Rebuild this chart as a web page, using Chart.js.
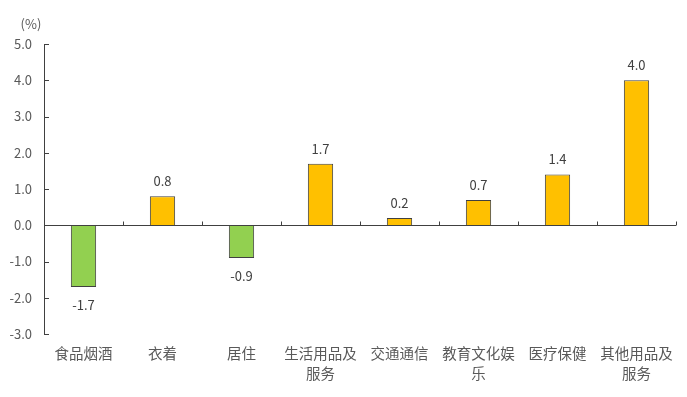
<!DOCTYPE html>
<html><head><meta charset="utf-8">
<script src="https://cdn.jsdelivr.net/npm/chart.js@4"></script>
<style>html,body{margin:0;padding:0;background:#fff}#w{width:687px;height:397px;position:relative}</style>
</head><body><div id="w"><canvas id="c"></canvas></div>
<script>
const categories = [["食品烟酒"],["衣着"],["居住"],["生活用品及","服务"],["交通通信"],["教育文化娱","乐"],["医疗保健"],["其他用品及","服务"]];
const values = [-1.7, 0.8, -0.9, 1.7, 0.2, 0.7, 1.4, 4.0];
const yTickMin = -3, yTickMax = 5, yTickStep = 1;
const unitLabel = "(%)";

const FONT = "'Noto Sans CJK SC', 'Noto Sans', sans-serif";
const TXT = '#595959', AX = '#404040';

const deco = {
  id: 'deco',
  afterDatasetsDraw(chart) {
    const {ctx, chartArea: a, scales: {x, y}} = chart;
    ctx.save();
    ctx.strokeStyle = AX; ctx.lineWidth = 1;
    const y0 = Math.round(y.getPixelForValue(0)) + 0.5;
    ctx.beginPath(); ctx.moveTo(a.left, y0); ctx.lineTo(a.right, y0); ctx.stroke();
    const n = categories.length;
    const step = x.getPixelForValue(1) - x.getPixelForValue(0);
    for (let i = 1; i <= n; i++) {
      const px = Math.round(i < n ? x.getPixelForValue(i) - step / 2 : a.right) + 0.5;
      ctx.beginPath(); ctx.moveTo(px, y0); ctx.lineTo(px, y0 - 4); ctx.stroke();
    }
    for (let v = yTickMin; v <= yTickMax; v += yTickStep) {
      const py = Math.round(y.getPixelForValue(v)) + 0.5;
      ctx.beginPath(); ctx.moveTo(a.left, py); ctx.lineTo(a.left + 5, py); ctx.stroke();
    }
    ctx.fillStyle = '#404040';
    ctx.font = '13px ' + FONT;
    ctx.textAlign = 'center'; ctx.textBaseline = 'middle';
    const meta = chart.getDatasetMeta(0);
    meta.data.forEach((bar, i) => {
      const v = values[i];
      const ty = v >= 0 ? bar.y - 15 : bar.y + 18;
      ctx.fillText(v.toFixed(1), bar.x, ty);
    });
    ctx.fillStyle = TXT;
    ctx.fillText(unitLabel, 31, 24);
    ctx.restore();
  }
};

new Chart(document.getElementById('c'), {
  type: 'bar',
  data: {
    labels: categories,
    datasets: [{
      data: values,
      backgroundColor: values.map(v => v < 0 ? '#92D050' : '#FFC000'),
      borderColor: '#404040',
      borderWidth: 1,
      barPercentage: 0.64,
      categoryPercentage: 0.5
    }]
  },
  options: {
    responsive: true, maintainAspectRatio: false, animation: false,
    devicePixelRatio: 1,
    layout: {padding: {top: 44, right: 11, left: 0, bottom: 0}},
    plugins: {legend: {display: false}, tooltip: {enabled: false}},
    scales: {
      x: {
        grid: {display: false, drawTicks: false},
        border: {display: false},
        ticks: {color: TXT, font: {family: FONT, size: 14.5, lineHeight: 1.38}, padding: 9, maxRotation: 0, autoSkip: false},
        afterFit(s) { s.height = 63; }
      },
      y: {
        min: yTickMin, max: yTickMax,
        grid: {display: false, drawTicks: false},
        border: {display: true, color: AX, width: 1},
        ticks: {stepSize: yTickStep, color: TXT, font: {family: FONT, size: 13}, padding: 12,
          callback: v => Number(v).toFixed(1)},
        afterFit(s) { s.width = 44; }
      }
    }
  },
  plugins: [deco]
});
</script></body></html>
